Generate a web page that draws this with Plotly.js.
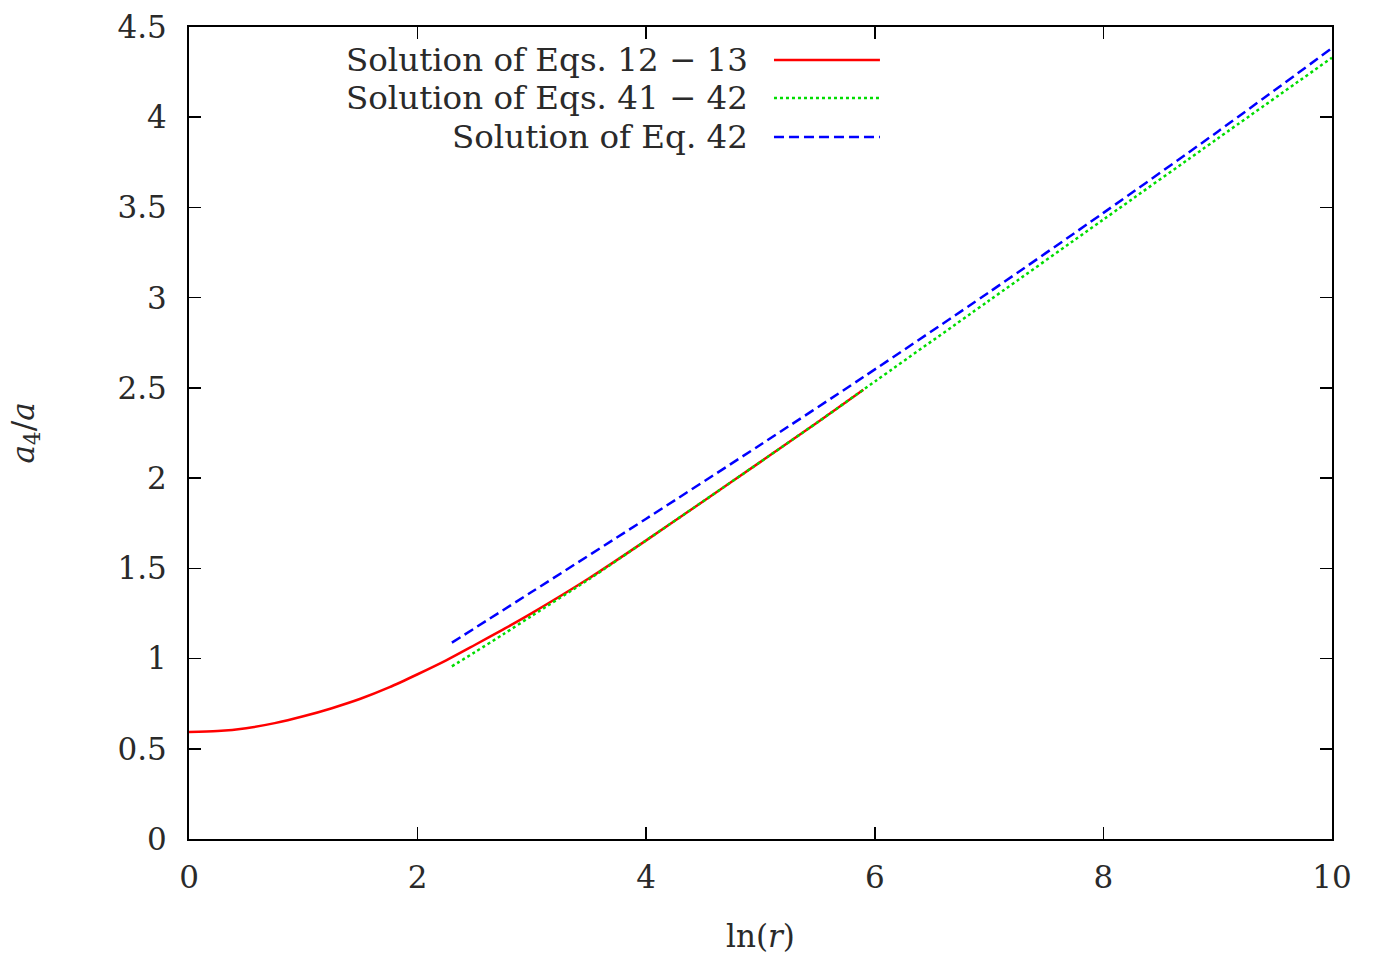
<!DOCTYPE html>
<html>
<head>
<meta charset="utf-8">
<script src="https://cdn.plot.ly/plotly-3.0.1.min.js"></script>
<style>html,body{margin:0;padding:0;background:#fff;}#plot{width:1373px;height:954px;}</style>
</head>
<body>
<div id="plot"></div>
<script>
// Solution of Eqs. 12-13 (red, solid)
const redX = [0, 0.25, 0.5, 0.75, 1.0, 1.25, 1.5, 1.75, 2.0, 2.25, 2.5, 2.75, 3.0, 3.5, 4.0, 4.5, 5.0, 5.5, 5.9];
const redY = [0.593, 0.598, 0.614, 0.642, 0.68, 0.725, 0.777, 0.840, 0.913, 0.99, 1.075, 1.162, 1.252, 1.445, 1.655, 1.872, 2.09, 2.31, 2.49];
// Solution of Eqs. 41-42 (green, dotted)
const greenX = [2.3, 2.5, 2.75, 3.0, 3.5, 4.0, 4.5, 5.0, 5.5, 5.9, 7.0, 8.0, 9.0, 10.0];
const greenY = [0.957, 1.035, 1.135, 1.237, 1.44, 1.655, 1.872, 2.09, 2.31, 2.49, 2.984, 3.433, 3.882, 4.33];
// Solution of Eq. 42 (blue, dashed)
const blueX = [2.3, 3.0, 4.0, 5.0, 5.9, 7.0, 8.0, 9.0, 10.0];
const blueY = [1.088, 1.37, 1.775, 2.185, 2.56, 3.03, 3.47, 3.92, 4.383];

const legendNames = ["Solution of Eqs. 12 \u2212 13", "Solution of Eqs. 41 \u2212 42", "Solution of Eq. 42"];
const colors = ["#ff0000", "#00dd00", "#0000ff"];
const dashes = ["solid", "3px,3px", "10px,5px"];

const xTicks = [0, 2, 4, 6, 8, 10];
const yTicks = [0, 0.5, 1, 1.5, 2, 2.5, 3, 3.5, 4, 4.5];

const FONT = "'DejaVu Serif', 'Liberation Serif', serif";
const TXT = '#2a2a2a';

const traces = [
  {x: redX, y: redY, mode: 'lines', line: {color: colors[0], width: 2.5, dash: dashes[0], shape: 'spline', smoothing: 0.8}, showlegend: false},
  {x: greenX, y: greenY, mode: 'lines', line: {color: colors[1], width: 2.5, dash: dashes[1], shape: 'spline', smoothing: 0.8}, showlegend: false},
  {x: blueX, y: blueY, mode: 'lines', line: {color: colors[2], width: 2.5, dash: dashes[2], shape: 'spline', smoothing: 0.8}, showlegend: false}
];

const legY = [0.9594, 0.9126, 0.8645];
const annotations = legendNames.map((t, i) => ({
  xref: 'paper', yref: 'paper', x: 0.4908, y: legY[i], xanchor: 'right', yanchor: 'middle',
  text: t, showarrow: false, font: {family: FONT, size: 32.5, color: TXT}
}));
const shapes = legendNames.map((t, i) => ({
  type: 'line', xref: 'paper', yref: 'paper', x0: 0.5118, x1: 0.6045, y0: legY[i], y1: legY[i],
  line: {color: colors[i], width: 2.5, dash: dashes[i]}
}));

const axisCommon = {
  showgrid: false, zeroline: false, showline: true, linecolor: '#000', linewidth: 2,
  mirror: 'allticks', ticks: 'inside', ticklen: 12, tickwidth: 1.5, tickcolor: '#000',
  tickfont: {family: FONT, size: 31, color: TXT}
};

const layout = {
  width: 1373, height: 954,
  margin: {l: 189, r: 41, t: 27, b: 115},
  paper_bgcolor: '#fff', plot_bgcolor: '#fff',
  font: {family: FONT, color: TXT},
  xaxis: Object.assign({}, axisCommon, {
    range: [0, 10], tickvals: xTicks, ticktext: xTicks.map(String), ticklabelstandoff: 10,
    title: {text: 'ln(<i>r</i>)', font: {family: FONT, size: 31, color: TXT}, standoff: 31}
  }),
  yaxis: Object.assign({}, axisCommon, {
    range: [0, 4.5], tickvals: yTicks, ticktext: yTicks.map(String), ticklabelstandoff: 14,
    title: {text: '<i>a</i><sub>4</sub>/<i>a</i>', font: {family: FONT, size: 31, color: TXT}, standoff: 74}
  }),
  annotations: annotations,
  shapes: shapes
};

Plotly.newPlot('plot', traces, layout, {staticPlot: true, displayModeBar: false});
</script>
</body>
</html>
